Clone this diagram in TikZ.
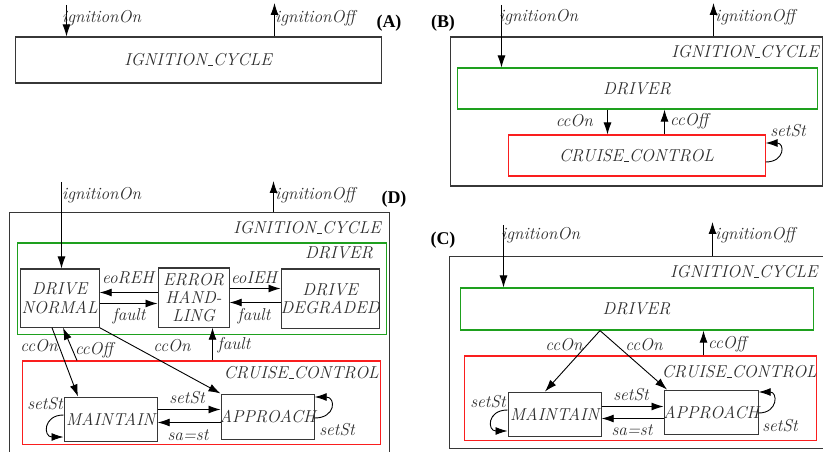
\documentclass[tikz,border=0pt]{standalone}
\usepackage{fontspec}
\newfontfamily\tagfont{Liberation Serif}
\usetikzlibrary{arrows.meta}
\definecolor{cgreen}{RGB}{30,160,30}
\definecolor{cred}{RGB}{250,30,30}
\definecolor{ink}{RGB}{45,45,45}
\definecolor{edge}{RGB}{55,55,55}
\newcommand\usc{\leavevmode\kern.06em\vbox{\hrule width.3em height .6pt}}
\tikzset{
  lbl/.style={font=\fontsize{17.3}{18.5}\selectfont\itshape, text=ink, inner sep=0pt},
  tag/.style={font=\tagfont\bfseries\fontsize{18}{19}\selectfont, inner sep=0pt},
  outerbox/.style={draw=edge, line width=1.1bp, inner sep=0pt, anchor=north west},
  outerline/.style={draw=edge, line width=1.1bp},
  drvbox/.style={draw=cgreen, line width=1.1bp, inner sep=0pt, anchor=north west},
  ccbox/.style={draw=cred, line width=1.1bp, inner sep=0pt, anchor=north west},
  statebox/.style={draw=edge, line width=1.2bp, inner sep=0pt, anchor=north west},
  arr/.style={draw=black, line width=0.9bp, -{Latex[length=12bp,width=8bp]}},
}
\begin{document}
\begin{tikzpicture}[x=1bp,y=-1bp]
\useasboundingbox (0,0) rectangle (823,452);

% ================= (A) =================
\node[outerbox, minimum width=366bp, minimum height=46bp,
  label={[lbl]center:IGNITION\usc CYCLE}] (Abox) at (14.5,36.5) {};
\coordinate (Aon) at (66.5,5);
\coordinate (Aoff) at (274.5,3);
\draw[arr] (Aon) -- (Abox.north -| Aon);
\draw[arr] (Abox.north -| Aoff) -- (Aoff);
\node[lbl, anchor=west] (AonL) at (62,18) {ignitionOn};
\node[lbl, anchor=west] (AoffL) at (275,18) {ignitionOff};
\node[tag] (Atag) at (389,23) {(A)};

% ================= (B) =================
\node[outerbox, minimum width=372bp, minimum height=149bp] (Bbox) at (449.5,36.5) {};
\node[lbl, anchor=east] (BicL) at (819,52) {IGNITION\usc CYCLE};
\node[drvbox, minimum width=360bp, minimum height=41bp,
  label={[lbl]center:DRIVER}] (Bdrv) at (456.5,67.5) {};
\node[ccbox, minimum width=257bp, minimum height=41bp,
  label={[lbl]center:CRUISE\usc CONTROL}] (Bcc) at (507.5,134.5) {};
\coordinate (Bon) at (501.5,5);
\coordinate (Boff) at (713.5,3);
\draw[arr] (Bon) -- (Bdrv.north -| Bon);
\draw[arr] (Bbox.north -| Boff) -- (Boff);
\node[lbl, anchor=west] (BonL) at (499,17) {ignitionOn};
\node[lbl, anchor=west] (BoffL) at (715,17) {ignitionOff};
\node[tag] (Btag) at (443,23) {(B)};
\draw[arr] (Bdrv.south -| 607.5,0) -- (Bcc.north -| 607.5,0);
\draw[arr] (Bcc.north -| 664.5,0) -- (Bdrv.south -| 664.5,0);
\node[lbl, anchor=east] (BccOnL) at (593,121) {ccOn};
\node[lbl, anchor=west] (BccOffL) at (670,121) {ccOff};
\draw[arr] (Bcc.east |- 0,162) .. controls (785,162) and (785,143) .. (Bcc.east |- 0,143);
\node[lbl] (BsetL) at (788,131) {setSt};

% ================= (D) =================
\draw[outerline] (9.5,454) -- (9.5,212.5) -- (389.5,212.5) -- (389.5,454);
\coordinate (Dtop) at (273.5,212.5);
\node[lbl, anchor=east] (DicL) at (381,228) {IGNITION\usc CYCLE};
\node[drvbox, minimum width=369bp, minimum height=91bp] (Ddrv) at (16.5,242.5) {};
\node[lbl, anchor=east] (DdrvL) at (373,253) {DRIVER};
\node[statebox, minimum width=79bp, minimum height=58bp,
  label={[lbl,align=center]center:{DRIVE\\NORMAL}}] (DN) at (19.5,268.5) {};
\node[statebox, minimum width=71bp, minimum height=59bp,
  label={[lbl,align=center]center:{ERROR\\HAND-\\LING}}] (EH) at (157.5,267.5) {};
\node[statebox, minimum width=98bp, minimum height=59bp,
  label={[lbl,align=center]center:{DRIVE\\DEGRADED}}] (DD) at (280.5,268.5) {};
\node[ccbox, minimum width=358bp, minimum height=83bp] (Dcc) at (21.5,360.5) {};
\node[lbl, anchor=east] (DccL) at (379,373) {CRUISE\usc CONTROL};
\node[statebox, minimum width=93bp, minimum height=44bp,
  label={[lbl]center:MAINTAIN}] (DM) at (63.5,396.5) {};
\node[statebox, minimum width=93bp, minimum height=45bp,
  label={[lbl]center:APPROACH}] (DA) at (220.5,393.5) {};
\coordinate (Don) at (61.5,182);
\coordinate (Doff) at (273.5,181);
\draw[arr] (Don) -- (DN.north -| Don);
\draw[arr] (Dtop) -- (Doff);
\node[lbl, anchor=west] (DonL) at (62,195) {ignitionOn};
\node[lbl, anchor=west] (DoffL) at (275,195) {ignitionOff};
\node[tag] (Dtag) at (394,199) {(D)};
% driver internal
\draw[arr] (EH.west |- 0,292.5) -- (DN.east |- 0,292.5);
\draw[arr] (DN.east |- 0,303.5) -- (EH.west |- 0,303.5);
\draw[arr] (EH.east |- 0,288.5) -- (DD.west |- 0,288.5);
\draw[arr] (DD.west |- 0,302.5) -- (EH.east |- 0,302.5);
\node[lbl] (eoREHL) at (128,278) {eoREH};
\node[lbl] (eoIEHL) at (254,278) {eoIEH};
\node[lbl] (fault1L) at (129,316) {fault};
\node[lbl] (fault2L) at (254,316) {fault};
% between
\draw[arr] (DN.south -| 52,0) -- (DM.north -| 78,0);
\draw[arr] (Dcc.north -| 77,0) -- (DN.south -| 63,0);
\draw[arr] (DN.south east) -- (DA.north west);
\draw[arr] (Dcc.north -| 212.5,0) -- (EH.south -| 212.5,0);
\node[lbl] (DccOn1L) at (39,346) {ccOn};
\node[lbl] (DccOffL) at (94,350) {ccOff};
\node[lbl] (DccOn2L) at (172,346) {ccOn};
\node[lbl] (Dfault3L) at (234,345) {fault};
% cruise internal
\draw[arr] (DM.east |- 0,409.5) -- (DA.west |- 0,409.5);
\draw[arr] (DA.west |- 0,422.5) -- (DM.east |- 0,422.5);
\node[lbl] (DsetL) at (187,398) {setSt};
\node[lbl] (DsaL) at (188,435) {sa=st};
\draw[arr] (DM.west |- 0,415) .. controls (43,415) and (43,437) .. (DM.west |- 0,437);
\node[lbl] (DsetML) at (45,404) {setSt};
\draw[arr] (DA.east |- 0,418) .. controls (336,418) and (336,397) .. (DA.east |- 0,397);
\node[lbl] (DsetAL) at (337,430) {setSt};

% ================= (C) =================
\draw[outerline] (825,256.5) -- (449.5,256.5) -- (449.5,448.5) -- (825,448.5);
\coordinate (Ctop) at (712.5,256.5);
\node[lbl, anchor=west] (CicL) at (670,272) {IGNITION\usc CYCLE};
\node[drvbox, minimum width=353bp, minimum height=42bp,
  label={[lbl]center:DRIVER}] (Cdrv) at (459.5,287.5) {};
\node[ccbox, minimum width=352bp, minimum height=84bp] (Ccc) at (463.5,355.5) {};
\node[lbl, anchor=east] (CccL) at (817,372) {CRUISE\usc CONTROL};
\node[statebox, minimum width=93bp, minimum height=44bp,
  label={[lbl]center:MAINTAIN}] (CM) at (507.5,391.5) {};
\node[statebox, minimum width=94bp, minimum height=44bp,
  label={[lbl]center:APPROACH}] (CA) at (663.5,389.5) {};
\coordinate (Con) at (503.5,225);
\coordinate (Coff) at (712.5,222);
\draw[arr] (Con) -- (Cdrv.north -| Con);
\draw[arr] (Ctop) -- (Coff);
\node[lbl, anchor=west] (ConL) at (501,235) {ignitionOn};
\node[lbl, anchor=west] (CoffL) at (715,235) {ignitionOff};
\node[tag] (Ctag) at (443,240) {(C)};
\draw[arr] (Cdrv.south -| 600,0) -- (CM.north -| 545,0);
\draw[arr] (Cdrv.south -| 600,0) -- (CA.north -| 667,0);
\draw[arr] (Ccc.north -| 703.5,0) -- (Cdrv.south -| 703.5,0);
\node[lbl] (CccOn1L) at (564,345) {ccOn};
\node[lbl] (CccOn2L) at (644,345) {ccOn};
\node[lbl, anchor=west] (CccOffL) at (708,344) {ccOff};
\draw[arr] (CM.east |- 0,406.5) -- (CA.west |- 0,406.5);
\draw[arr] (CA.west |- 0,418.5) -- (CM.east |- 0,418.5);
\node[lbl] (CsetL) at (631,395) {setSt};
\node[lbl] (CsaL) at (632,430) {sa=st};
\draw[arr] (CM.west |- 0,410) .. controls (487,410) and (487,431) .. (CM.west |- 0,431);
\node[lbl] (CsetML) at (488,402) {setSt};
\draw[arr] (CA.east |- 0,413) .. controls (778,413) and (778,392) .. (CA.east |- 0,392);
\node[lbl] (CsetAL) at (780,426) {setSt};
\end{tikzpicture}
\end{document}
